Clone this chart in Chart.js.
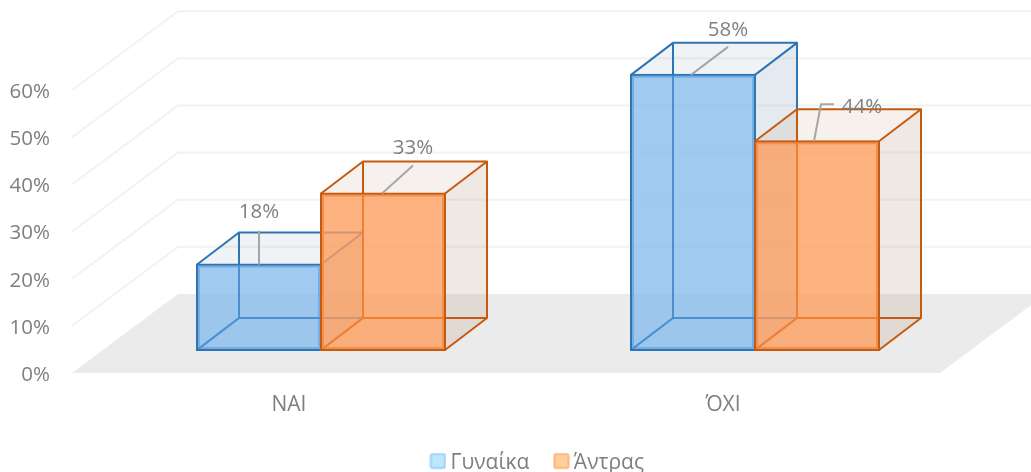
<!DOCTYPE html>
<html><head><meta charset="utf-8">
<style>html,body{margin:0;padding:0;background:#fff}canvas{display:block}</style>
<script src="https://cdn.jsdelivr.net/npm/chart.js@4/dist/chart.umd.min.js"></script>
</head><body><canvas id="c" width="1031" height="472"></canvas>
<script>
const categories = ['ΝΑΙ', 'ΌΧΙ'];
const women = [18, 58];
const men = [33, 44];
const seriesNames = ['Γυναίκα', 'Άντρας'];
const yTicks = [0, 10, 20, 30, 40, 50, 60];

const FONT = '"Open Sans", sans-serif';
const GREY = '#7f7f7f';
const WALL = {x: 106, y: 79};
const DEPTH = {x: 42, y: 32};
const FLOOR_RIGHT = 940;
const styles = [
  {front:'rgba(136,189,236,.8)', edge:'#2e75b6', inner:'rgba(70,140,205,.9)', top:'rgba(125,158,183,.12)', side:'rgba(148,172,192,.25)', lgFill:'#bde7ff', lgEdge:'#9dd0fa'},
  {front:'rgba(252,159,95,.8)', edge:'#c55a11', inner:'rgba(237,125,49,.85)', top:'rgba(183,142,108,.12)', side:'rgba(195,164,140,.25)', lgFill:'#ffd09b', lgEdge:'#ffb27f'}
];
// leader lines and label anchors, relative to the top centre of each bar's front face
const labelLayout = [
  [ {pts:[[0,0],[0,-34]], text:[0,-52]}, {pts:[[-1,0],[30,-28]], text:[30,-45]} ],
  [ {pts:[[-2,0],[35,-28]], text:[35,-45]}, {pts:[[-3,0],[4,-37],[17,-37]], text:[45,-34]} ]
];

function poly(ctx, pts, fill, stroke, lw){
  ctx.beginPath();
  pts.forEach((p,i)=> i? ctx.lineTo(p[0],p[1]) : ctx.moveTo(p[0],p[1]));
  if(fill){ctx.closePath();ctx.fillStyle=fill;ctx.fill();}
  if(stroke){ctx.strokeStyle=stroke;ctx.lineWidth=lw;ctx.lineJoin='round';ctx.stroke();}
}
function rectOf(el){ const h=el.width/2; return {l:el.x-h, r:el.x+h, t:el.y, b:el.base}; }

const scene = {
  id:'scene',
  afterLayout(chart){ chart.legend.left+=2; chart.legend.right+=2; },
  beforeDatasetsDraw(chart){
    const ctx=chart.ctx, y1=chart.scales.y1;
    const p0=y1.getPixelForValue(0), left=chart.chartArea.left-32;
    ctx.save();
    poly(ctx,[[left,p0],[left+WALL.x,p0-WALL.y],[FLOOR_RIGHT+WALL.x,p0-WALL.y],[FLOOR_RIGHT,p0]],'#ebebeb');
    yTicks.slice(1).forEach(v=>{
      const p=y1.getPixelForValue(v);
      poly(ctx,[[left,p],[left+WALL.x,p-WALL.y],[1031,p-WALL.y]],null,'#f2f2f2',2);
    });
    ctx.restore();
  },
  // the first series has to lie behind the second, so the datasets are painted in index order below
  beforeDatasetDraw(){ return false; },
  afterDatasetsDraw(chart){
    const ctx=chart.ctx, dx=DEPTH.x, dy=DEPTH.y;
    chart.data.datasets.forEach((ds,i)=>{
      const meta=chart.getDatasetMeta(i), s=styles[i];
      ctx.save();
      meta.data.forEach(el=>{
        const {l,r,t,b}=rectOf(el);
        poly(ctx,[[l,t],[r,t],[r+dx,t-dy],[l+dx,t-dy]],s.top);
        poly(ctx,[[r,t],[r+dx,t-dy],[r+dx,b-dy],[r,b]],s.side);
        poly(ctx,[[l,t],[l+dx,t-dy],[r+dx,t-dy],[r,t]],null,s.edge,2);
        poly(ctx,[[r+dx,t-dy],[r+dx,b-dy],[r,b]],null,s.edge,2);
        poly(ctx,[[l+dx,t-dy],[l+dx,b-dy],[r+dx,b-dy]],null,s.edge,2);
        poly(ctx,[[l,b],[l+dx,b-dy]],null,s.edge,2);
      });
      ctx.restore();
      meta.controller.draw();
      meta.data.forEach(el=>{
        const {l,r,t,b}=rectOf(el);
        ctx.save();
        ctx.beginPath();ctx.rect(l+1,t+1,r-l-2,b-t-2);ctx.clip();
        poly(ctx,[[l+dx,t-dy],[l+dx,b-dy],[r+dx,b-dy]],null,s.inner,2);
        poly(ctx,[[l,b],[l+dx,b-dy]],null,s.inner,2);
        ctx.restore();
      });
    });
    ctx.save();
    chart.data.datasets.forEach((ds,i)=>{
      chart.getDatasetMeta(i).data.forEach((el,j)=>{
        const L=labelLayout[j][i];
        poly(ctx,L.pts.map(p=>[el.x+p[0],el.y+p[1]]),null,'#a6a6a6',2);
        ctx.font='20.5px '+FONT;ctx.fillStyle=GREY;ctx.textAlign='center';ctx.textBaseline='middle';
        ctx.fillText(ds.data[j]+'%',el.x+L.text[0],el.y+L.text[1]);
      });
    });
    ctx.restore();
  }
};

function legendBox(s){
  const c=document.createElement('canvas');c.width=17;c.height=21;
  const g=c.getContext('2d');
  g.fillStyle=s.lgFill;g.strokeStyle=s.lgEdge;g.lineWidth=2;
  g.beginPath();g.roundRect(1.5,1.5,14,14,2);g.fill();g.stroke();
  return c;
}
const boxes=styles.map(legendBox);

new Chart(document.getElementById('c'),{
  type:'bar',
  plugins:[scene],
  data:{
    labels:categories,
    datasets:[
      {label:seriesNames[0],data:women,yAxisID:'y',backgroundColor:styles[0].front,borderColor:styles[0].edge,borderWidth:2,borderSkipped:false,inflateAmount:1},
      {label:seriesNames[1],data:men,yAxisID:'y',backgroundColor:styles[1].front,borderColor:styles[1].edge,borderWidth:2,borderSkipped:false,inflateAmount:1}
    ]
  },
  options:{
    responsive:false,animation:false,events:[],
    categoryPercentage:0.5714,barPercentage:1,
    layout:{padding:{top:11,right:59,left:0,bottom:-11.5}},
    scales:{
      x:{
        grid:{display:false,drawTicks:false},border:{display:false},
        ticks:{font:{family:FONT,size:21},color:GREY,labelOffset:-32,padding:19,maxRotation:0},
        afterFit(s){s.height=49.5;}
      },
      y:{display:false,min:-4.86,max:71.46},
      y1:{
        position:'left',min:0,max:76.8,
        grid:{display:false,drawTicks:false},border:{display:false},
        ticks:{font:{family:FONT,size:20.5},color:GREY,padding:54,labelOffset:2,callback:v=>v+'%'},
        afterBuildTicks(s){s.ticks=yTicks.map(v=>({value:v}));},
        afterFit(s){s.width=104;s.paddingTop=0;s.paddingBottom=0;}
      }
    },
    plugins:{
      tooltip:{enabled:false},
      legend:{
        position:'bottom',fullSize:false,
        labels:{
          font:{family:FONT,size:21},color:GREY,usePointStyle:true,pointStyleWidth:4,boxHeight:15,padding:30,
          generateLabels(chart){
            return chart.data.datasets.map((d,i)=>({text:d.label,datasetIndex:i,fontColor:GREY,pointStyle:boxes[i],hidden:false}));
          }
        }
      }
    }
  }
});
</script></body></html>
